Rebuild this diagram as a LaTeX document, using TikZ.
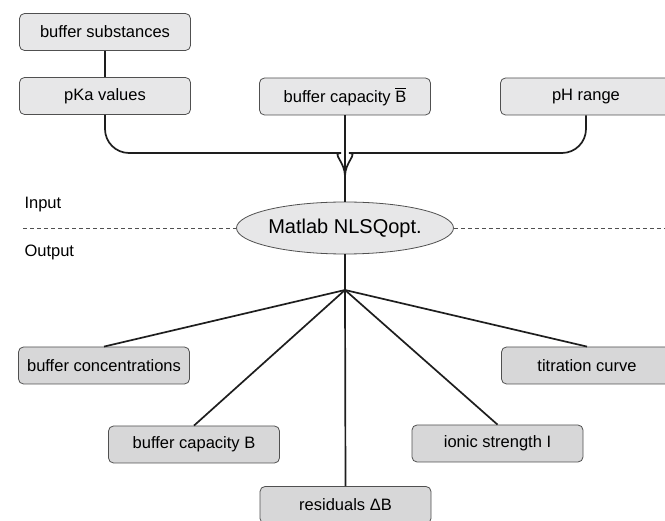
\documentclass[tikz,border=0pt]{standalone}
\usepackage{amsmath}
\usepackage{fontspec}
\usepackage{tikz}
\usepackage{xcolor}
\setmainfont{Liberation Sans}
\usetikzlibrary{shapes.geometric}
\definecolor{topfill}{HTML}{E7E7E8}
\definecolor{botfill}{HTML}{D7D7D8}
\definecolor{edge}{HTML}{505050}
\definecolor{wirec}{HTML}{1E1E1E}

\begin{document}
\begin{tikzpicture}[
    x=1pt, y=-1pt,
    every node/.style={font=\fontsize{16.5}{19}\selectfont},
    box/.style={draw=edge, line width=0.8pt, rounded corners=5pt, inner sep=0pt, minimum width=171pt, minimum height=37pt},
    inbox/.style={box, fill=topfill},
    outbox/.style={box, fill=botfill},
    wire/.style={draw=wirec, line width=1.7pt},
    sep/.style={draw=edge, line width=0.8pt, dash pattern=on 4pt off 3pt}
  ]
    \useasboundingbox (0,0) rectangle (665,521);
    \clip (0,0) rectangle (665,521);
    \node[inbox] (subst) at (105,32) {buffer substances};
    \node[inbox] (pka) at (105,96) {pKa values};
    \node[inbox] (bbar) at (345,96.5) {buffer capacity $\overline{\text{B}}$};
    \node[inbox] (ph) at (586,96.5) {pH range};
    \node[ellipse, draw=edge, line width=0.8pt, fill=topfill, inner sep=0pt, minimum width=178pt, minimum height=52pt, font=\fontsize{20}{24}\selectfont] (nlsq) at (345,228) {Matlab NLSQopt.};
    \node[anchor=west] (inp) at (21,205) {Input};
    \node[anchor=west] (outp) at (21,252) {Output};
    \node[outbox] (conc) at (104,365.5) {buffer concentrations};
    \node[outbox] (capb) at (194,444.5) {buffer capacity B};
    \node[outbox] (resid) at (345.5,505) {residuals ΔB};
    \node[outbox] (ionic) at (497.5,443.5) {ionic strength I};
    \node[outbox] (titr) at (587,365.5) {titration curve};
    \coordinate (fork) at (345,176);
    \coordinate (hub) at (345,290);
    \coordinate (sepl) at (23,228);
    \coordinate (sepr) at (665,228);
    \draw[wire] (subst) -- (pka);
    \draw[wire] (bbar) -- (nlsq);
    \draw[wire] (pka.south) [rounded corners=24pt] |- ([xshift=-28pt,yshift=23pt]fork) [sharp corners] to[out=0,in=90] (fork);
    \draw[wire] (ph.south) [rounded corners=24pt] |- ([xshift=28pt,yshift=23pt]fork) [sharp corners] to[out=180,in=90] (fork);
    \draw[sep] (sepl) -- (nlsq.west);
    \draw[sep] (nlsq.east) -- (sepr);
    \draw[wire] (nlsq) -- (hub);
    \foreach \n in {conc,capb,resid,ionic,titr}
      \draw[wire] (hub) -- (\n.north);
  \end{tikzpicture}
\end{document}
